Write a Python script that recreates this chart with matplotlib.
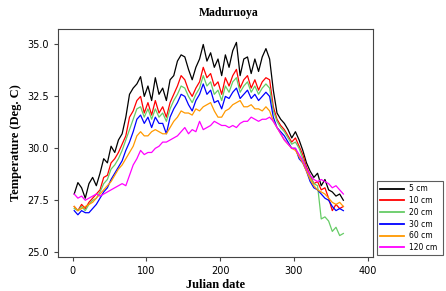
import matplotlib
matplotlib.use("Agg")
import matplotlib.pyplot as plt

days = list(range(2, 368, 5))

t_5cm = [27.8, 28.35, 28.1, 27.6, 28.3, 28.6, 28.2, 28.8, 29.5, 29.3,
         30.1, 29.8, 30.4, 30.7, 31.5, 32.6, 32.9, 33.1, 33.45, 32.5,
         33.0, 32.3, 33.4, 32.6, 32.9, 32.3, 33.3, 33.5, 34.2, 34.5,
         34.4, 33.8, 33.3, 33.9, 34.3, 35.0, 34.2, 34.6, 33.9, 34.3,
         33.5, 34.5, 33.9, 34.7, 35.1, 33.5, 34.3, 34.4, 33.6, 34.3,
         33.7, 34.4, 34.8, 34.3, 32.8, 31.7, 31.4, 31.2, 30.9, 30.5,
         30.8, 30.4, 29.9, 29.3, 28.9, 28.6, 28.8, 28.2, 28.5, 28.0,
         27.9, 27.7, 27.8, 27.5]
t_10cm = [27.2, 27.0, 27.3, 27.1, 27.4, 27.6, 27.8, 28.0, 28.6, 28.7,
          29.3, 29.5, 29.8, 30.2, 30.6, 31.5, 31.8, 32.3, 32.5, 31.7,
          32.2, 31.6, 32.3, 31.7, 32.0, 31.5, 32.2, 32.6, 33.0, 33.5,
          33.3, 32.8, 32.5, 32.9, 33.2, 33.9, 33.4, 33.6, 33.0, 33.2,
          32.6, 33.4, 33.0, 33.5, 33.8, 32.9, 33.3, 33.5, 32.9, 33.3,
          32.8, 33.2, 33.4, 33.3, 32.0, 31.4, 31.1, 30.9, 30.6, 30.3,
          30.5, 30.1, 29.7, 29.1, 28.7, 28.3, 28.4, 28.0, 28.1, 27.6,
          27.0, 27.3, 27.1, 27.2]
t_20cm = [27.1, 27.0, 27.2, 27.0, 27.3, 27.5, 27.6, 27.9, 28.3, 28.5,
          29.0, 29.2, 29.5, 29.9, 30.4, 30.9, 31.4, 31.9, 32.0, 31.5,
          31.9, 31.4, 31.9, 31.5, 31.7, 31.3, 31.9, 32.3, 32.6, 33.0,
          32.9, 32.5, 32.2, 32.6, 32.9, 33.5, 33.0, 33.2, 32.6, 32.8,
          32.3, 33.0, 32.7, 33.2, 33.4, 32.7, 33.0, 33.2, 32.7, 33.0,
          32.6, 32.9, 33.1, 32.9, 31.8, 31.3, 31.0, 30.8, 30.5, 30.2,
          30.3, 30.0, 29.5, 29.0, 28.6, 28.3, 28.2, 26.6, 26.7, 26.5,
          26.0, 26.2, 25.8, 25.9]
t_30cm = [27.0, 26.8, 27.0, 26.9, 26.9, 27.1, 27.3, 27.6, 27.9, 28.1,
          28.5, 28.8, 29.1, 29.4, 29.9, 30.3, 30.8, 31.4, 31.6, 31.2,
          31.5, 31.0, 31.5, 31.2, 31.2, 30.7, 31.5, 31.9, 32.2, 32.6,
          32.5, 32.1, 31.8, 32.3, 32.6, 33.1, 32.6, 32.8, 32.2, 32.3,
          31.9, 32.5, 32.4, 32.7, 32.9, 32.4, 32.6, 32.8, 32.4, 32.6,
          32.3, 32.5, 32.7, 32.5, 31.5, 31.0, 30.8, 30.6, 30.3, 30.0,
          30.0, 29.5, 29.3, 28.9, 28.4, 28.1, 28.0, 27.8, 27.6, 27.5,
          27.2, 27.0, 27.1, 27.0]
t_60cm = [27.2, 27.0, 27.1, 27.2, 27.3, 27.4, 27.6, 27.8, 28.0, 28.2,
          28.4, 28.7, 29.0, 29.2, 29.5, 29.8, 30.1, 30.6, 30.8, 30.6,
          30.6, 30.8, 30.9, 30.8, 30.7, 30.7, 31.0, 31.3, 31.5, 31.8,
          31.7, 31.7, 31.6, 31.9, 31.8, 32.0, 32.1, 32.2, 31.8, 31.5,
          31.5, 31.8, 31.9, 32.1, 32.2, 32.3, 32.0, 32.0, 32.1, 31.9,
          31.9, 31.8, 32.0, 31.8, 31.3, 31.0, 30.7, 30.4, 30.2, 30.0,
          29.9, 29.6, 29.3, 28.9, 28.5, 28.2, 28.0, 27.9, 27.8, 27.6,
          27.4, 27.3, 27.4, 27.2]
t_120cm = [27.8, 27.6, 27.7, 27.5, 27.6, 27.7, 27.8, 27.7, 27.8, 27.9,
           28.0, 28.1, 28.2, 28.3, 28.2, 28.7, 29.2, 29.5, 29.9, 29.7,
           29.8, 29.8, 30.0, 30.1, 30.3, 30.3, 30.4, 30.5, 30.6, 30.8,
           31.0, 30.7, 30.9, 30.8, 31.3, 30.9, 31.0, 31.1, 31.3, 31.2,
           31.1, 31.1, 31.0, 31.1, 31.0, 31.2, 31.3, 31.3, 31.5, 31.4,
           31.3, 31.4, 31.4, 31.5, 31.3, 31.0, 30.7, 30.4, 30.2, 30.0,
           30.0, 29.7, 29.4, 29.0, 28.7, 28.5, 28.4, 28.5, 28.4, 28.3,
           28.1, 28.2, 28.0, 27.8]

labels = ["5 cm", "10 cm", "20 cm", "30 cm", "60 cm", "120 cm"]
colors = ["black", "red", "#66cc66", "blue", "#ff9900", "magenta"]
series = [t_5cm, t_10cm, t_20cm, t_30cm, t_60cm, t_120cm]

fig = plt.figure(figsize=(4.46, 2.91), dpi=100)
ax = fig.add_axes([0.130, 0.117, 0.706, 0.783])

for vals, lab, col in zip(series, labels, colors):
    ax.plot(days, vals, color=col, lw=0.9, label=lab)

ax.set_xlim(-20, 407)
ax.set_ylim(24.77, 35.74)
ax.set_xticks([0, 100, 200, 300, 400])
ax.set_yticks([25.0, 27.5, 30.0, 32.5, 35.0])
ax.set_yticklabels(["25.0", "27.5", "30.0", "32.5", "35.0"])
ax.tick_params(labelsize=7, length=3, width=0.8, color="#444444")
for s in ax.spines.values():
    s.set_color("#444444")
    s.set_linewidth(0.8)

serif = dict(family="Liberation Serif", weight="bold")
ax.set_xlabel("Julian date", fontsize=9, labelpad=2, **serif)
ax.set_ylabel("Temperature (Deg. C)", fontsize=9, labelpad=4, **serif)
fig.text(0.513, 0.955, "Maduruoya", ha="center", va="center", fontsize=8.5, **serif)

leg = ax.legend(loc="lower left", bbox_to_anchor=(0.845, 0.124, 0.148, 0.24),
                bbox_transform=fig.transFigure, mode="expand", fontsize=5.5,
                frameon=True, fancybox=False, handlelength=3.2,
                borderaxespad=0, labelspacing=0.35, handletextpad=0.6)
leg.get_frame().set_edgecolor("#333333")
leg.get_frame().set_linewidth(0.8)
for h in leg.get_lines():
    h.set_linewidth(1.3)

fig.savefig("out.png", dpi=100)
